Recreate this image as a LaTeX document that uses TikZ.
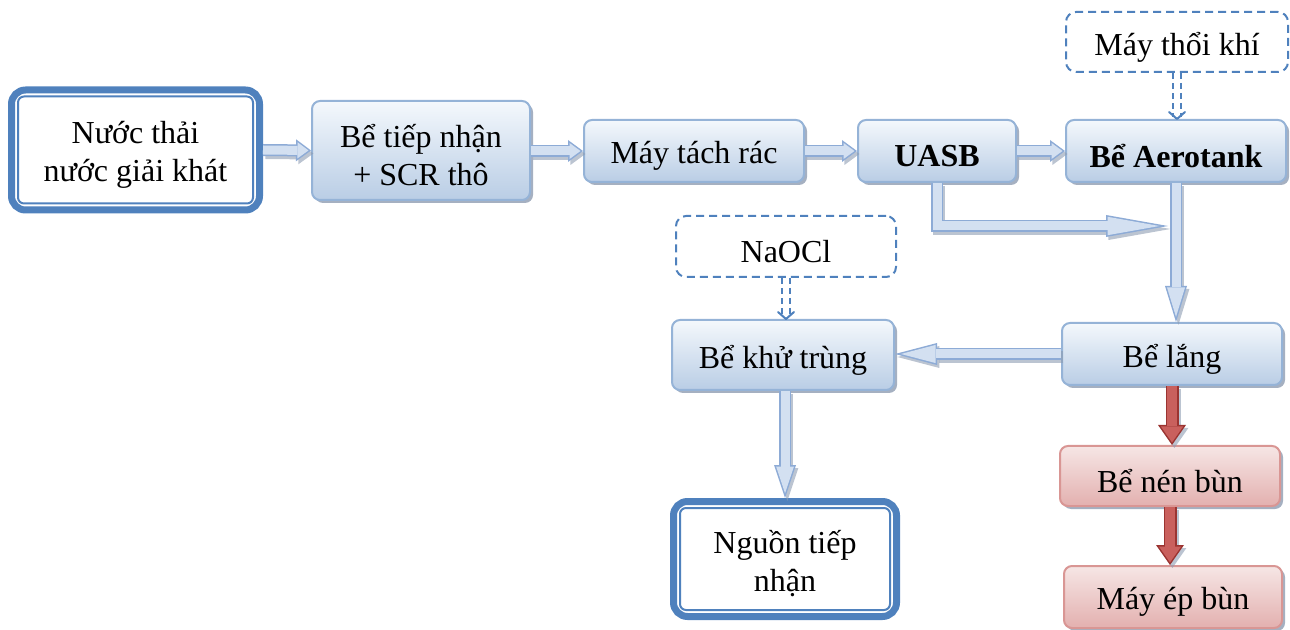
\documentclass[tikz,border=0pt]{standalone}
\usepackage{fontspec}
\setmainfont{Liberation Serif}
\usetikzlibrary{arrows.meta,shadows,calc}
\definecolor{bline}{HTML}{95B3D7}
\definecolor{bfill}{HTML}{B9CDE5}
\definecolor{btop}{HTML}{F4F8FC}
\definecolor{frame}{HTML}{4F81BD}
\definecolor{rline}{HTML}{D99694}
\definecolor{rfill}{HTML}{E3B0AF}
\definecolor{rtop}{HTML}{F6E6E5}
\definecolor{arline}{HTML}{8DABD6}
\definecolor{arfill}{HTML}{D3E0F1}
\definecolor{rarline}{HTML}{9B3431}
\definecolor{rarfill}{HTML}{C9605D}
\definecolor{shad}{HTML}{8E9CB2}
\newcommand\dl[1]{\raisebox{-2.5pt}[\height][\depth]{#1}}
\tikzset{
  x=0.5pt, y=-0.5pt,
  txt/.style={align=center, font=\fontsize{16}{19}\selectfont, inner sep=0pt, text=black},
  pbox/.style={txt, draw=bline, line width=1pt, rounded corners=4pt,
     top color=btop, bottom color=bfill,
     drop shadow={shadow xshift=1.5pt, shadow yshift=-1.5pt, fill=shad, opacity=0.8}},
  redbox/.style={pbox, draw=rline, top color=rtop, bottom color=rfill},
  dashbox/.style={txt, draw=frame, line width=1pt, dash pattern=on 4pt off 2.5pt,
     rounded corners=5pt, fill=white},
  termbox/.style={txt, draw=frame, line width=3.5pt, rounded corners=7pt, fill=white},
  innerframe/.style={draw=frame, line width=1pt, rounded corners=3pt},
  dconn/.style={draw=frame, line width=1pt, double=white, double distance=3pt,
     dash pattern=on 3pt off 2pt, shorten >=1pt},
  dtip/.style={draw=frame, line width=1pt, line cap=round, line join=round},
  boldtxt/.style={font=\fontsize{16}{19}\selectfont\bfseries},
}
% generic block arrow: shaft width, head width, head length, line colour, fill colour, path
\newcommand\barr[6]{%
  \pgfmathsetmacro\bth{atan((#2/2)/#3)}%
  \pgfmathsetmacro\bas{0.75/sin(\bth)}%
  \pgfmathsetmacro\bal{#3-0.75-\bas}%
  \pgfmathsetmacro\baw{2*((#3-0.75)*(#2/2)/#3 - 0.75/cos(\bth))}%
  \pgfmathsetmacro\bsw{#1-1.5}%
  \draw[line width=#1pt, draw=shad, opacity=0.6, line join=miter,
        transform canvas={shift={(1.2pt,-1.5pt)}},
        -{Triangle[length=#3pt, width=#2pt, line width=0pt]}] #6;
  \draw[line width=#1pt, draw=#4, line join=miter,
        -{Triangle[length=#3pt, width=#2pt, line width=0pt]}] #6;
  \draw[line width=\bsw pt, draw=#5, line join=miter, shorten >=\bas pt,
        -{Triangle[length=\bal pt, width=\baw pt, line width=0pt]}] #6;
}
\newcommand\bluearr[2]{\barr{6}{11}{#1}{arline}{arfill}{#2}}
\newcommand\redarr[2]{\barr{6.5}{14}{#1}{rarline}{rarfill}{#2}}
\begin{document}
\begin{tikzpicture}
\useasboundingbox (0,0) rectangle (1290,630);
% nodes
\node[termbox, minimum width=124pt, minimum height=60pt] (src) at (135.5,150) {\dl{Nước thải}\\\dl{nước giải khát}};
\draw[innerframe] ([shift={(5pt,-5pt)}]src.north west) rectangle ([shift={(-5pt,5pt)}]src.south east);
\node[pbox, minimum width=109pt, minimum height=49.5pt] (recv) at (421,150.5) {\dl{Bể tiếp nhận}\\\dl{+ SCR thô}};
\node[pbox, minimum width=110pt, minimum height=31pt] (sep) at (694,151) {\dl{Máy tách rác}};
\node[pbox, boldtxt, minimum width=79pt, minimum height=31pt] (uasb) at (937,151) {\dl{UASB}};
\node[pbox, boldtxt, minimum width=110pt, minimum height=31pt] (aero) at (1176,151) {\dl{Bể Aerotank}};
\node[dashbox, minimum width=111pt, minimum height=30pt] (blower) at (1177,42) {\dl{Máy thổi khí}};
\node[dashbox, minimum width=110pt, minimum height=30.5pt] (naocl) at (786,246.5) {\dl{NaOCl}};
\node[pbox, minimum width=111pt, minimum height=35pt] (disinf) at (783,355) {\dl{Bể khử trùng}};
\node[pbox, minimum width=110pt, minimum height=31pt] (settle) at (1172,354) {\dl{Bể lắng}};
\node[redbox, minimum width=110pt, minimum height=30pt] (thick) at (1170,476) {\dl{Bể nén bùn}};
\node[redbox, minimum width=109pt, minimum height=31pt] (press) at (1173,597) {\dl{Máy ép bùn}};
\node[termbox, minimum width=111.5pt, minimum height=57.5pt] (recip) at (785,559) {\dl{Nguồn tiếp}\\\dl{nhận}};
\draw[innerframe] ([shift={(5pt,-5pt)}]recip.north west) rectangle ([shift={(-5pt,5pt)}]recip.south east);
% connectors
\bluearr{7.5}{(src.east) -- (recv.west)}
\bluearr{7.5}{(recv.east |- sep.west) -- (sep.west)}
\bluearr{7.5}{(sep.east) -- (uasb.west)}
\bluearr{7.5}{(uasb.east) -- (aero.west)}
\coordinate (bj) at (1168,226);
\bluearr{31}{(uasb.south) |- (bj)}
\bluearr{18}{(aero.south) -- (aero.south |- settle.north)}
\bluearr{21}{(settle.west) -- (settle.west -| disinf.east)}
\bluearr{16.5}{(disinf.south -| recip.north) -- (recip.north)}
\redarr{10}{(settle.south) -- (settle.south |- thick.north)}
\redarr{10}{(thick.south) -- (thick.south |- press.north)}
\coordinate (bt) at (blower.south |- aero.north);
\coordinate (nt) at (naocl.south |- disinf.north);
\draw[dconn] (blower.south) -- (bt);
\draw[dtip] ([shift={(-4pt,3.5pt)}]bt) -- (bt) -- ([shift={(4pt,3.5pt)}]bt);
\draw[dconn] (naocl.south) -- (nt);
\draw[dtip] ([shift={(-4pt,3.5pt)}]nt) -- (nt) -- ([shift={(4pt,3.5pt)}]nt);
\end{tikzpicture}
\end{document}
